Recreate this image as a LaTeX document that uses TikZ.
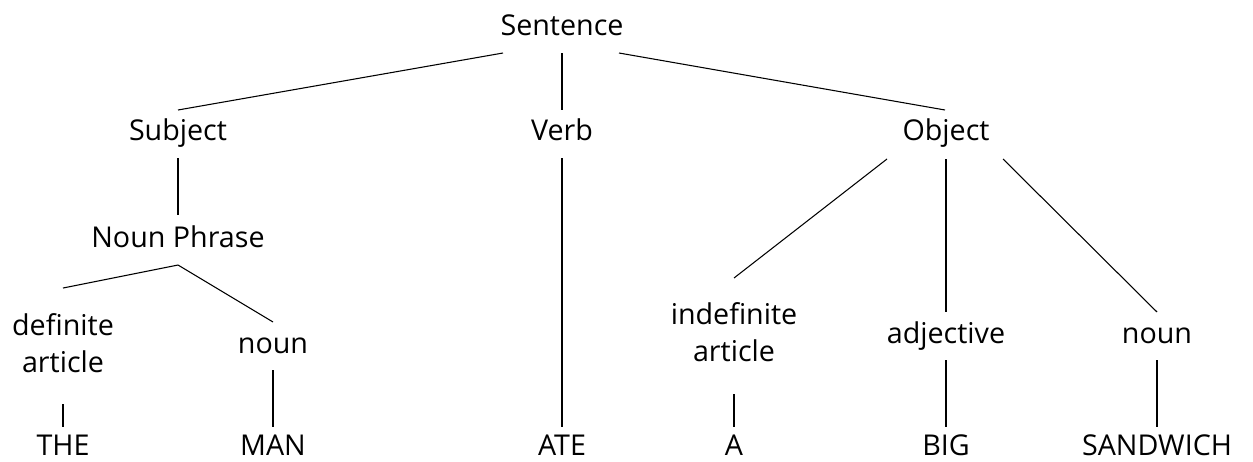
\documentclass[tikz,border=0pt]{standalone}
\usepackage{fontspec}
\setmainfont{Open Sans}
\usetikzlibrary{calc}
\begin{document}
\begin{tikzpicture}[x=0.75pt,y=-0.75pt,
  lbl/.style={font=\fontsize{21.5}{28}\selectfont, inner sep=0pt, anchor=base},
  mlbl/.style={font=\fontsize{21.5}{28}\selectfont, inner sep=0pt, anchor=center, align=center},
  edge/.style={draw=black, line width=0.8pt}]
\useasboundingbox (0,0) rectangle (1253,461);
% nodes
\node[lbl] (sentence) at (562,35) {Sentence};
\node[lbl] (subject) at (178,140) {Subject};
\node[lbl] (verb) at (562,140) {Verb};
\node[lbl] (object) at (946,140) {Object};
\node[lbl] (np) at (178,247) {Noun Phrase};
\node[mlbl] (defart) at (63,343) {definite\\article};
\node[lbl] (noun1) at (273,353) {noun};
\node[mlbl] (indef) at (734,332) {indefinite\\article};
\node[lbl] (adj) at (946,343) {adjective};
\node[lbl] (noun2) at (1157,343) {noun};
\node[lbl] (the) at (63,455) {THE};
\node[lbl] (man) at (273,455) {MAN};
\node[lbl] (ate) at (562,455) {ATE};
\node[lbl] (a) at (734,455) {A};
\node[lbl] (big) at (946,455) {BIG};
\node[lbl] (sandwich) at (1157,455) {SANDWICH};
% connectors
\draw[edge] ($(sentence.base)+(-59,18)$) -- ($(subject.base)+(0,-30)$);
\draw[edge] ($(sentence.base)+(0,18)$) -- ($(verb.base)+(0,-30)$);
\draw[edge] ($(sentence.base)+(57,18)$) -- ($(object.base)+(-1,-30)$);
\draw[edge] ($(subject.base)+(0,18)$) -- ($(np.base)+(0,-32)$);
\draw[edge] ($(np.base)+(0,18)$) -- ($(defart.center)+(0,-55)$);
\draw[edge] ($(np.base)+(0,18)$) -- ($(noun1.base)+(0,-31)$);
\draw[edge] ($(defart.center)+(0,61)$) -- ($(the.base)+(0,-28)$);
\draw[edge] ($(noun1.base)+(0,17)$) -- ($(man.base)+(0,-28)$);
\draw[edge] ($(verb.base)+(0,18)$) -- ($(ate.base)+(0,-28)$);
\draw[edge] ($(object.base)+(-59,19)$) -- ($(indef.center)+(0,-54)$);
\draw[edge] ($(object.base)+(0,19)$) -- ($(adj.base)+(0,-31)$);
\draw[edge] ($(object.base)+(57,19)$) -- ($(noun2.base)+(0,-31)$);
\draw[edge] ($(indef.center)+(0,62)$) -- ($(a.base)+(0,-28)$);
\draw[edge] ($(adj.base)+(0,17)$) -- ($(big.base)+(0,-28)$);
\draw[edge] ($(noun2.base)+(0,17)$) -- ($(sandwich.base)+(0,-28)$);
\end{tikzpicture}
\end{document}
